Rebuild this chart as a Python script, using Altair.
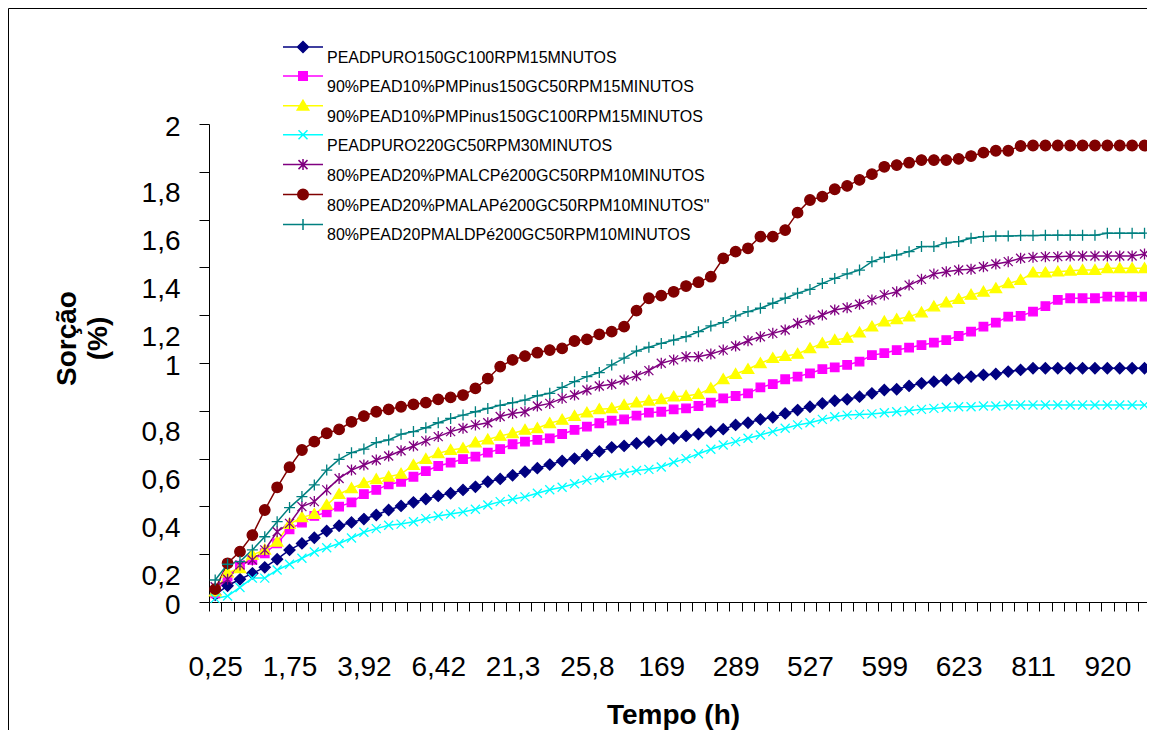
import altair as alt
import pandas as pd

FONT = "Liberation Sans"

# ---- category / tick labels (one label every 6 samples) ----
tempo_labels = ["0,25", "1,75", "3,92", "6,42", "21,3", "25,8", "169",
                "289", "527", "599", "623", "811", "920"]
label_every = 6
n_points = 76

series_names = [
    "PEADPURO150GC100RPM15MNUTOS",
    "90%PEAD10%PMPinus150GC50RPM15MINUTOS",
    "90%PEAD10%PMPinus150GC100RPM15MINUTOS",
    "PEADPURO220GC50RPM30MINUTOS",
    "80%PEAD20%PMALCPé200GC50RPM10MINUTOS",
    "80%PEAD20%PMALAPé200GC50RPM10MINUTOS\"",
    "80%PEAD20PMALDPé200GC50RPM10MINUTOS",
]
colors = ["#000080", "#FF00FF", "#FFFF00", "#00FFFF", "#800080", "#800000", "#008080"]

navy = [0.030, 0.068, 0.095, 0.120, 0.145, 0.179, 0.218, 0.245, 0.269, 0.297,
        0.319, 0.333, 0.347, 0.364, 0.385, 0.402, 0.417, 0.431, 0.444, 0.455,
        0.469, 0.482, 0.503, 0.515, 0.530, 0.545, 0.560, 0.575, 0.590, 0.600,
        0.615, 0.630, 0.647, 0.653, 0.664, 0.671, 0.678, 0.685, 0.695, 0.703,
        0.713, 0.723, 0.741, 0.750, 0.764, 0.773, 0.789, 0.803, 0.817, 0.831,
        0.842, 0.848, 0.859, 0.873, 0.887, 0.890, 0.904, 0.915, 0.922, 0.929,
        0.936, 0.943, 0.950, 0.954, 0.964, 0.971, 0.978, 0.978, 0.978, 0.978,
        0.978, 0.978, 0.978, 0.978, 0.978, 0.978]
magenta = [0.036, 0.106, 0.152, 0.176, 0.204, 0.245, 0.304, 0.332, 0.360, 0.375,
           0.399, 0.417, 0.451, 0.469, 0.492, 0.503, 0.524, 0.548, 0.569, 0.583,
           0.598, 0.608, 0.625, 0.640, 0.660, 0.671, 0.678, 0.685, 0.703, 0.720,
           0.734, 0.748, 0.759, 0.764, 0.780, 0.792, 0.796, 0.806, 0.810, 0.820,
           0.834, 0.852, 0.862, 0.873, 0.898, 0.912, 0.932, 0.943, 0.957, 0.974,
           0.982, 0.992, 1.006, 1.033, 1.041, 1.054, 1.064, 1.075, 1.085, 1.096,
           1.113, 1.131, 1.152, 1.169, 1.194, 1.197, 1.215, 1.238, 1.264, 1.271,
           1.271, 1.271, 1.278, 1.278, 1.278, 1.278]
yellow = [0.043, 0.123, 0.141, 0.197, 0.218, 0.252, 0.326, 0.354, 0.368, 0.406,
          0.451, 0.476, 0.497, 0.513, 0.524, 0.536, 0.573, 0.598, 0.622, 0.636,
          0.643, 0.667, 0.680, 0.695, 0.706, 0.720, 0.727, 0.748, 0.762, 0.778,
          0.792, 0.806, 0.810, 0.824, 0.834, 0.842, 0.848, 0.859, 0.862, 0.870,
          0.894, 0.932, 0.954, 0.974, 0.999, 1.020, 1.029, 1.038, 1.061, 1.082,
          1.096, 1.105, 1.127, 1.152, 1.173, 1.183, 1.194, 1.211, 1.236, 1.253,
          1.267, 1.285, 1.298, 1.312, 1.333, 1.347, 1.378, 1.378, 1.382, 1.386,
          1.389, 1.389, 1.396, 1.396, 1.396, 1.396]
cyan = [0.015, 0.025, 0.061, 0.100, 0.100, 0.134, 0.158, 0.183, 0.209, 0.227,
        0.245, 0.268, 0.292, 0.307, 0.321, 0.326, 0.336, 0.349, 0.360, 0.368,
        0.377, 0.388, 0.406, 0.420, 0.430, 0.440, 0.455, 0.470, 0.480, 0.495,
        0.510, 0.520, 0.530, 0.540, 0.550, 0.555, 0.565, 0.585, 0.600, 0.620,
        0.639, 0.657, 0.671, 0.685, 0.699, 0.713, 0.727, 0.741, 0.750, 0.764,
        0.775, 0.782, 0.785, 0.787, 0.792, 0.796, 0.800, 0.806, 0.810, 0.815,
        0.817, 0.817, 0.820, 0.820, 0.824, 0.824, 0.824, 0.824, 0.824, 0.824,
        0.824, 0.824, 0.824, 0.824, 0.824, 0.824]
purple = [0.064, 0.095, 0.155, 0.176, 0.218, 0.294, 0.329, 0.399, 0.420, 0.469,
          0.517, 0.552, 0.573, 0.594, 0.611, 0.633, 0.653, 0.674, 0.692, 0.713,
          0.727, 0.741, 0.750, 0.776, 0.789, 0.796, 0.820, 0.831, 0.852, 0.866,
          0.887, 0.904, 0.911, 0.929, 0.947, 0.968, 0.999, 1.013, 1.026, 1.026,
          1.038, 1.054, 1.071, 1.093, 1.110, 1.124, 1.138, 1.166, 1.180, 1.201,
          1.222, 1.231, 1.246, 1.264, 1.285, 1.298, 1.326, 1.350, 1.372, 1.382,
          1.389, 1.392, 1.403, 1.414, 1.424, 1.438, 1.442, 1.445, 1.445, 1.448,
          1.448, 1.448, 1.448, 1.448, 1.448, 1.456]
brown = [0.054, 0.162, 0.211, 0.280, 0.385, 0.480, 0.564, 0.636, 0.671, 0.706,
         0.722, 0.754, 0.778, 0.796, 0.806, 0.817, 0.827, 0.834, 0.848, 0.856,
         0.866, 0.894, 0.935, 0.985, 1.013, 1.029, 1.043, 1.054, 1.061, 1.092,
         1.099, 1.120, 1.131, 1.152, 1.219, 1.271, 1.282, 1.298, 1.322, 1.338,
         1.361, 1.438, 1.466, 1.480, 1.529, 1.529, 1.556, 1.629, 1.682, 1.696,
         1.727, 1.741, 1.766, 1.790, 1.821, 1.828, 1.838, 1.849, 1.849, 1.849,
         1.854, 1.866, 1.880, 1.888, 1.888, 1.908, 1.910, 1.910, 1.910, 1.910,
         1.910, 1.910, 1.910, 1.910, 1.910, 1.910]
teal = [0.092, 0.158, 0.169, 0.218, 0.273, 0.336, 0.395, 0.441, 0.490, 0.552,
        0.597, 0.625, 0.640, 0.667, 0.678, 0.702, 0.713, 0.729, 0.750, 0.768,
        0.782, 0.796, 0.810, 0.823, 0.834, 0.845, 0.863, 0.873, 0.898, 0.922,
        0.943, 0.960, 0.992, 1.020, 1.050, 1.066, 1.082, 1.096, 1.110, 1.131,
        1.155, 1.169, 1.197, 1.215, 1.229, 1.250, 1.271, 1.292, 1.308, 1.333,
        1.354, 1.373, 1.389, 1.424, 1.442, 1.452, 1.466, 1.487, 1.487, 1.503,
        1.508, 1.522, 1.529, 1.531, 1.531, 1.533, 1.533, 1.535, 1.535, 1.535,
        1.535, 1.535, 1.543, 1.543, 1.543, 1.543]

all_series = [navy, magenta, yellow, cyan, purple, brown, teal]
for s in all_series:
    assert len(s) == n_points, len(s)

y_ticks = [0, 0.2, 0.4, 0.6, 0.8, 1, 1.2, 1.4, 1.6, 1.8, 2]

# ---- marker shapes (unit = sqrt(size)/2 px) ----
def marker_paths(dy, line):
    seg = f"M-4,{dy}L4,{dy}" if line else ""
    return [
        seg + f"M0,{-1.1 + dy}L1.1,{dy}L0,{1.1 + dy}L-1.1,{dy}Z",
        seg + f"M-0.85,{-0.85 + dy}L0.85,{-0.85 + dy}L0.85,{0.85 + dy}L-0.85,{0.85 + dy}Z",
        seg + f"M0,{-1.1 + dy}L1.15,{0.85 + dy}L-1.15,{0.85 + dy}Z",
        seg + f"M-0.9,{-0.9 + dy}L0.9,{0.9 + dy}M-0.9,{0.9 + dy}L0.9,{-0.9 + dy}",
        seg + f"M-0.9,{-0.9 + dy}L0.9,{0.9 + dy}M-0.9,{0.9 + dy}L0.9,{-0.9 + dy}M0,{-1.1 + dy}L0,{1.1 + dy}",
        seg + f"M-1.05,{dy}A1.05,1.05,0,1,1,1.05,{dy}A1.05,1.05,0,1,1,-1.05,{dy}Z",
        seg + f"M-1.1,{dy}L1.1,{dy}M0,{-1.1 + dy}L0,{1.1 + dy}",
    ]

point_shapes = marker_paths(0, False)
legend_shapes = marker_paths(-0.6, True)

rows = []
for k, (name, vals) in enumerate(zip(series_names, all_series)):
    for i, v in enumerate(vals):
        rows.append({"serie": name, "serieL": name, "ordem": k, "idx": i, "valor": v})
df = pd.DataFrame(rows)

label_js = "[" + ",".join(f"'{t}'" for t in tempo_labels) + "]"
x_enc = alt.X(
    "idx:Q",
    scale=alt.Scale(domain=[-0.5, 75.2], nice=False, zero=False),
    axis=alt.Axis(
        values=[i - 0.5 for i in range(n_points)],
        grid=False, tickSize=9, tickColor="black", domainColor="black",
        labelExpr=f"(datum.value + 0.5) % {label_every} == 0 ? {label_js}[(datum.value + 0.5) / {label_every}] : ''",
        labelOffset=6.2, labelPadding=42, labelFontSize=28, labelColor="black",
        labelOverlap=False, labelFlush=False, labelBound=False,
        title="Tempo (h)", titleFontSize=28, titleFontWeight="bold", titleColor="black",
        titleX=464, titleY=121, titleAlign="center", titleBaseline="alphabetic",
    ),
)
y_enc = alt.Y(
    "valor:Q",
    scale=alt.Scale(domain=[0, 2], nice=False, zero=True),
    axis=alt.Axis(
        values=y_ticks, grid=False, tickSize=10, tickColor="black", domainColor="black",
        labelExpr="replace(format(datum.value, '~g'), '.', ',')",
        labelFontSize=28, labelColor="black", labelPadding=19,
        labelOffset={"condition": {"test": "datum.value % 1 != 0", "value": 22}, "value": 3.5},
        title=["Sorção", "(%)"], titleFontSize=28, titleFontWeight="bold", titleColor="black",
        titleAngle=270, titleX=-134, titleY=214, titleAlign="center",
        titleBaseline="alphabetic", titleLineHeight=31,
    ),
)

base = alt.Chart(df)

lines = base.mark_line(strokeWidth=1.5).encode(
    x=x_enc, y=y_enc,
    color=alt.Color("serie:N", scale=alt.Scale(domain=series_names, range=colors), legend=None),
    detail="serie:N",
)

points = base.mark_point(filled=True, size=100, strokeWidth=1.3, opacity=1).encode(
    x=x_enc, y=y_enc,
    fill=alt.Fill("serie:N", scale=alt.Scale(domain=series_names, range=colors), legend=None),
    stroke=alt.Stroke("serie:N", scale=alt.Scale(domain=series_names, range=colors), legend=None),
    shape=alt.Shape("serie:N", scale=alt.Scale(domain=series_names, range=point_shapes), legend=None),
    order="ordem:Q",
)

leg = alt.Legend(
    title=None, orient="none", legendX=86, legendY=-82, direction="vertical",
    labelFontSize=16, labelFont=FONT, labelColor="black", labelBaseline="top",
    labelOffset=16, labelLimit=0, symbolSize=100, symbolStrokeWidth=1.5,
    symbolOpacity=1, rowPadding=1.9, padding=0,
)
legend_layer = base.transform_filter("false").mark_point(
    filled=True, size=100, strokeWidth=1.5, opacity=1
).encode(
    x=x_enc, y=y_enc,
    fill=alt.Fill("serieL:N", scale=alt.Scale(domain=series_names, range=colors), legend=leg),
    stroke=alt.Stroke("serieL:N", scale=alt.Scale(domain=series_names, range=colors), legend=leg),
    shape=alt.Shape("serieL:N", scale=alt.Scale(domain=series_names, range=legend_shapes), legend=leg),
)

frame_df = pd.DataFrame({"k": [0]})
left_border = alt.Chart(frame_df).mark_rule(color="black", strokeWidth=1).encode(
    x=alt.value(-200.5), y=alt.value(-115.5), y2=alt.value(606)
)
top_border = alt.Chart(frame_df).mark_rule(color="black", strokeWidth=1).encode(
    x=alt.value(-200.5), x2=alt.value(938), y=alt.value(-115.5)
)

chart = alt.layer(lines, points, legend_layer, left_border, top_border).resolve_scale(
    color="independent", fill="independent", stroke="independent", shape="independent"
).properties(
    width=938, height=478,
    padding={"left": 201, "top": 116, "right": 0, "bottom": 128},
    autosize=alt.AutoSizeParams(type="none"),
    background="white",
).configure_view(stroke=None).configure_axis(
    labelFont=FONT, titleFont=FONT
).configure_legend(labelFont=FONT)

chart.save("out.html", embed_options={"renderer": "svg", "actions": False})
